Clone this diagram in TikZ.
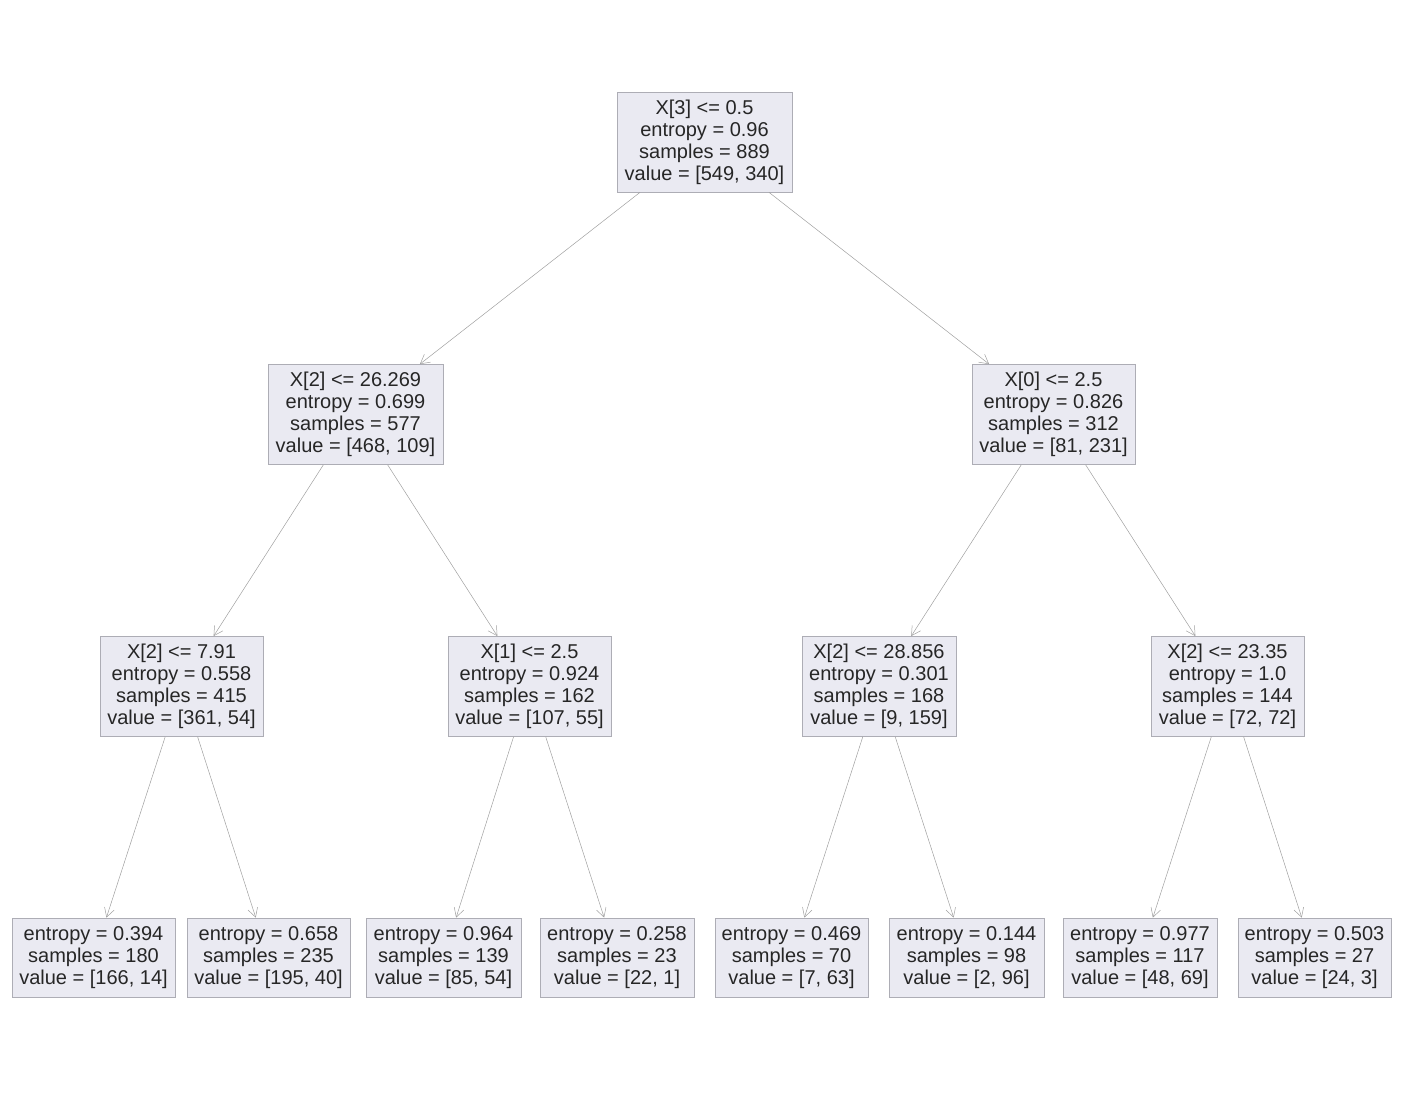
\documentclass[tikz,border=0pt]{standalone}
\usepackage{fontspec}
\setmainfont{Liberation Sans}
\usetikzlibrary{arrows.meta}
\definecolor{boxfill}{HTML}{EAEAF2}
\definecolor{boxline}{HTML}{ADADB5}
\definecolor{txt}{HTML}{262626}
\definecolor{edge}{HTML}{A0A0A0}
\begin{document}
\begin{tikzpicture}[x=1pt,y=-1pt,
  box/.style={draw=boxline,fill=boxfill,line width=0.8pt,inner sep=0pt,align=center,
    text=txt,font=\fontsize{20}{22}\selectfont,minimum height=100pt},
  leaf/.style={box,minimum height=79pt},
  link/.style={draw=edge,line width=0.5pt,-{Straight Barb[length=9pt,width=10pt,line width=0.5pt]}}]
\useasboundingbox (0,0) rectangle (1409,1101);
\node[box,minimum width=175pt] (n0) at (704.5,142) {X[3] <= 0.5\\entropy = 0.96\\samples = 889\\value = [549, 340]};
\node[box,minimum width=175pt] (n1) at (355.5,414.5) {X[2] <= 26.269\\entropy = 0.699\\samples = 577\\value = [468, 109]};
\node[box,minimum width=163pt] (n2) at (1053.5,414.5) {X[0] <= 2.5\\entropy = 0.826\\samples = 312\\value = [81, 231]};
\node[box,minimum width=163pt] (n3) at (181.5,686.5) {X[2] <= 7.91\\entropy = 0.558\\samples = 415\\value = [361, 54]};
\node[box,minimum width=163pt] (n4) at (529.5,686.5) {X[1] <= 2.5\\entropy = 0.924\\samples = 162\\value = [107, 55]};
\node[box,minimum width=154pt] (n5) at (879,686.5) {X[2] <= 28.856\\entropy = 0.301\\samples = 168\\value = [9, 159]};
\node[box,minimum width=153pt] (n6) at (1227.5,686.5) {X[2] <= 23.35\\entropy = 1.0\\samples = 144\\value = [72, 72]};
\node[leaf,minimum width=163pt] (l1) at (93.5,957.5) {entropy = 0.394\\samples = 180\\value = [166, 14]};
\node[leaf,minimum width=163pt] (l2) at (268.5,957.5) {entropy = 0.658\\samples = 235\\value = [195, 40]};
\node[leaf,minimum width=155pt] (l3) at (443.5,957.5) {entropy = 0.964\\samples = 139\\value = [85, 54]};
\node[leaf,minimum width=154pt] (l4) at (617,957.5) {entropy = 0.258\\samples = 23\\value = [22, 1]};
\node[leaf,minimum width=153pt] (l5) at (791.5,957.5) {entropy = 0.469\\samples = 70\\value = [7, 63]};
\node[leaf,minimum width=155pt] (l6) at (966.5,957.5) {entropy = 0.144\\samples = 98\\value = [2, 96]};
\node[leaf,minimum width=154pt] (l7) at (1140,957.5) {entropy = 0.977\\samples = 117\\value = [48, 69]};
\node[leaf,minimum width=153pt] (l8) at (1314.5,957.5) {entropy = 0.503\\samples = 27\\value = [24, 3]};
\draw[link] (n0) -- (n1);
\draw[link] (n0) -- (n2);
\draw[link] (n1) -- (n3);
\draw[link] (n1) -- (n4);
\draw[link] (n2) -- (n5);
\draw[link] (n2) -- (n6);
\draw[link] (n3) -- (l1);
\draw[link] (n3) -- (l2);
\draw[link] (n4) -- (l3);
\draw[link] (n4) -- (l4);
\draw[link] (n5) -- (l5);
\draw[link] (n5) -- (l6);
\draw[link] (n6) -- (l7);
\draw[link] (n6) -- (l8);
\end{tikzpicture}
\end{document}
